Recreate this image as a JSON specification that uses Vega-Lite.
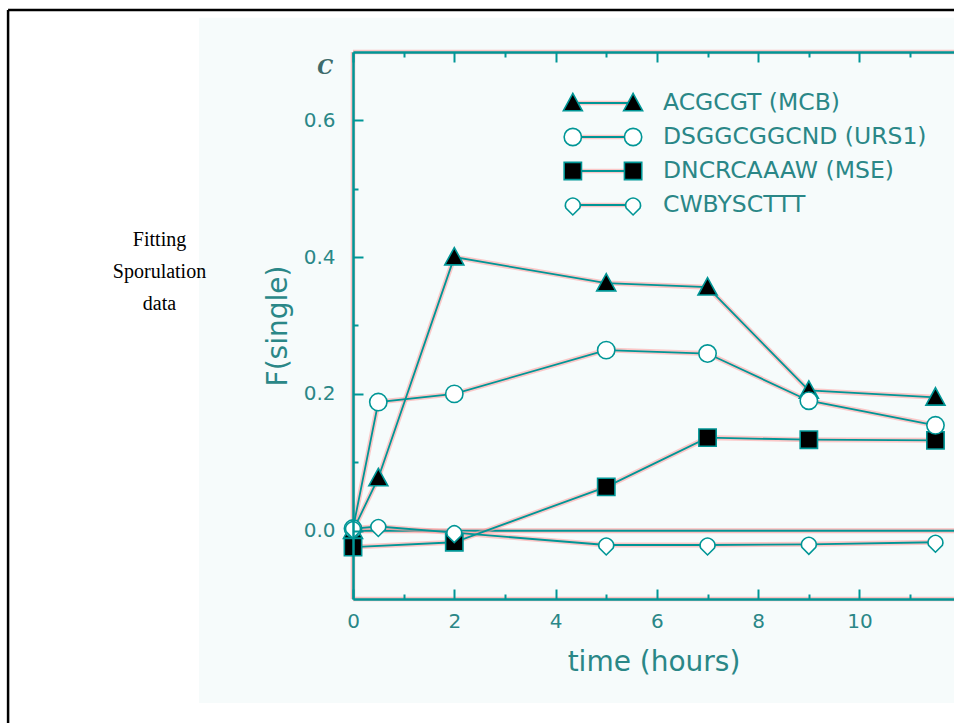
{
  "$schema": "https://vega.github.io/schema/vega-lite/v6.json",
  "width": 601,
  "height": 547,
  "autosize": {"type": "none"},
  "padding": {"left": 353, "top": 52, "right": 0, "bottom": 124},
  "background": "white",
  "config": {"view": {"stroke": null}, "font": "DejaVu Sans"},
  "datasets": {
    "series": [
      {"series": "ACGCGT (MCB)", "t": 0, "v": 0.0},
      {"series": "ACGCGT (MCB)", "t": 0.5, "v": 0.077},
      {"series": "ACGCGT (MCB)", "t": 2, "v": 0.4},
      {"series": "ACGCGT (MCB)", "t": 5, "v": 0.362},
      {"series": "ACGCGT (MCB)", "t": 7, "v": 0.356},
      {"series": "ACGCGT (MCB)", "t": 9, "v": 0.205},
      {"series": "ACGCGT (MCB)", "t": 11.5, "v": 0.195},
      {"series": "DNCRCAAAW (MSE)", "t": 0, "v": -0.024},
      {"series": "DNCRCAAAW (MSE)", "t": 2, "v": -0.017},
      {"series": "DNCRCAAAW (MSE)", "t": 5, "v": 0.064},
      {"series": "DNCRCAAAW (MSE)", "t": 7, "v": 0.136},
      {"series": "DNCRCAAAW (MSE)", "t": 9, "v": 0.133},
      {"series": "DNCRCAAAW (MSE)", "t": 11.5, "v": 0.132},
      {"series": "DSGGCGGCND (URS1)", "t": 0, "v": 0.003},
      {"series": "DSGGCGGCND (URS1)", "t": 0.5, "v": 0.188},
      {"series": "DSGGCGGCND (URS1)", "t": 2, "v": 0.2},
      {"series": "DSGGCGGCND (URS1)", "t": 5, "v": 0.264},
      {"series": "DSGGCGGCND (URS1)", "t": 7, "v": 0.259},
      {"series": "DSGGCGGCND (URS1)", "t": 9, "v": 0.19},
      {"series": "DSGGCGGCND (URS1)", "t": 11.5, "v": 0.154},
      {"series": "CWBYSCTTT", "t": 0, "v": 0.003},
      {"series": "CWBYSCTTT", "t": 0.5, "v": 0.006},
      {"series": "CWBYSCTTT", "t": 2, "v": -0.003},
      {"series": "CWBYSCTTT", "t": 5, "v": -0.021},
      {"series": "CWBYSCTTT", "t": 7, "v": -0.021},
      {"series": "CWBYSCTTT", "t": 9, "v": -0.02},
      {"series": "CWBYSCTTT", "t": 11.5, "v": -0.017}
    ],
    "legend": [
      {"series": "ACGCGT (MCB)"},
      {"series": "DSGGCGGCND (URS1)"},
      {"series": "DNCRCAAAW (MSE)"},
      {"series": "CWBYSCTTT"}
    ]
  },
  "resolve": {"axis": {"x": "independent", "y": "independent"}, "scale": {"y": "independent"}},
  "layer": [
    {
      "data": {"values": [{}]},
      "mark": {"type": "rect", "color": "#f6fbfb"},
      "encoding": {
        "x": {"datum": -3.04, "type": "quantitative", "scale": {"domain": [0, 11.866], "nice": false, "zero": false}, "axis": null},
        "x2": {"datum": 12.5},
        "y": {"datum": 0.75, "type": "quantitative", "scale": {"domain": [-0.1, 0.7], "nice": false, "zero": false}, "axis": null},
        "y2": {"datum": -0.252}
      }
    },
    {
      "data": {"values": [{}]},
      "mark": {"type": "rule", "color": "black", "strokeWidth": 2.5},
      "encoding": {
        "x": {"datum": -6.81, "type": "quantitative", "scale": {"domain": [0, 11.866], "nice": false, "zero": false}, "axis": null},
        "y": {"datum": 0.7614, "type": "quantitative", "scale": {"domain": [-0.1, 0.7], "nice": false, "zero": false}, "axis": null},
        "y2": {"datum": -0.5}
      }
    },
    {
      "data": {"values": [{}]},
      "mark": {"type": "rule", "color": "black", "strokeWidth": 2.5},
      "encoding": {
        "x": {"datum": -6.81, "type": "quantitative", "scale": {"domain": [0, 11.866], "nice": false, "zero": false}, "axis": null},
        "x2": {"datum": 12.5},
        "y": {"datum": 0.7614, "type": "quantitative", "scale": {"domain": [-0.1, 0.7], "nice": false, "zero": false}, "axis": null}
      }
    },
    {
      "data": {"values": [{}]},
      "mark": {"type": "rule", "color": "#ff9c9c", "strokeWidth": 4.5, "opacity": 0.6},
      "encoding": {
        "x": {"datum": 0, "type": "quantitative", "scale": {"domain": [0, 11.866], "nice": false, "zero": false}, "axis": null},
        "y": {"datum": 0.7, "type": "quantitative", "scale": {"domain": [-0.1, 0.7], "nice": false, "zero": false}, "axis": null},
        "y2": {"datum": -0.1}
      }
    },
    {
      "data": {"values": [{}]},
      "mark": {"type": "rule", "color": "#ff9c9c", "strokeWidth": 4.5, "opacity": 0.6},
      "encoding": {
        "x": {"datum": 0, "type": "quantitative", "scale": {"domain": [0, 11.866], "nice": false, "zero": false}, "axis": null},
        "x2": {"datum": 12.5},
        "y": {"datum": -0.1, "type": "quantitative", "scale": {"domain": [-0.1, 0.7], "nice": false, "zero": false}, "axis": null}
      }
    },
    {
      "data": {"values": [{}]},
      "mark": {"type": "rule", "color": "#ff9c9c", "strokeWidth": 4.5, "opacity": 0.6},
      "encoding": {
        "x": {"datum": 0, "type": "quantitative", "scale": {"domain": [0, 11.866], "nice": false, "zero": false}, "axis": null},
        "x2": {"datum": 12.5},
        "y": {"datum": 0.7, "type": "quantitative", "scale": {"domain": [-0.1, 0.7], "nice": false, "zero": false}, "axis": null}
      }
    },
    {
      "data": {"values": [{}]},
      "mark": {"type": "rule", "color": "#ff9c9c", "strokeWidth": 5, "opacity": 0.65},
      "encoding": {
        "x": {"datum": 0, "type": "quantitative", "scale": {"domain": [0, 11.866], "nice": false, "zero": false}, "axis": null},
        "x2": {"datum": 12.5},
        "y": {"datum": 0, "type": "quantitative", "scale": {"domain": [-0.1, 0.7], "nice": false, "zero": false}, "axis": null}
      }
    },
    {
      "data": {"values": [{}]},
      "mark": {"type": "rule", "color": "#009696", "strokeWidth": 2},
      "encoding": {
        "x": {"datum": 0, "type": "quantitative", "scale": {"domain": [0, 11.866], "nice": false, "zero": false}, "axis": null},
        "x2": {"datum": 12.5},
        "y": {"datum": 0, "type": "quantitative", "scale": {"domain": [-0.1, 0.7], "nice": false, "zero": false}, "axis": null}
      }
    },
    {
      "data": {"name": "series"},
      "mark": {"type": "line", "color": "#ff9c9c", "strokeWidth": 5, "opacity": 0.55},
      "encoding": {
        "x": {"field": "t", "type": "quantitative", "scale": {"domain": [0, 11.866], "nice": false, "zero": false}, "axis": null},
        "y": {"field": "v", "type": "quantitative", "scale": {"domain": [-0.1, 0.7], "nice": false, "zero": false}, "axis": null},
        "detail": {"field": "series"}
      }
    },
    {
      "data": {"name": "series"},
      "mark": {"type": "line", "color": "#009696", "strokeWidth": 1.8},
      "encoding": {
        "x": {
          "field": "t", "type": "quantitative",
          "scale": {"domain": [0, 11.866], "nice": false, "zero": false},
          "axis": {
            "orient": "bottom",
            "values": [0, 1, 2, 3, 4, 5, 6, 7, 8, 9, 10, 11],
            "format": "d",
            "labelExpr": "datum.value % 2 === 0 ? datum.label : ''",
            "tickSize": {"expr": "datum.value % 2 === 0 ? -10 : -5"},
            "tickColor": "#009696", "tickWidth": 2,
            "domainColor": "#009696", "domainWidth": 2.5,
            "labelFont": "DejaVu Sans", "labelFontSize": 20, "labelColor": "#2a8787",
            "labelPadding": 22, "labelFlush": false, "labelOverlap": false,
            "title": "time (hours)", "titleFont": "DejaVu Sans", "titleFontSize": 28, "titleFontWeight": "normal",
            "titleColor": "#2a8787", "titlePadding": 12, "grid": false, "zindex": 2
          }
        },
        "y": {
          "field": "v", "type": "quantitative",
          "scale": {"domain": [-0.1, 0.7], "nice": false, "zero": false},
          "axis": {
            "orient": "left",
            "values": [0, 0.1, 0.2, 0.3, 0.4, 0.5, 0.6],
            "labelExpr": "round(datum.value * 10) % 2 === 0 ? format(datum.value, '.1f') : ''",
            "tickSize": {"expr": "round(datum.value * 10) % 2 === 0 ? -10 : -5"},
            "tickColor": "#009696", "tickWidth": 2,
            "domainColor": "#009696", "domainWidth": 2.5,
            "labelFont": "DejaVu Sans", "labelFontSize": 20, "labelColor": "#2a8787",
            "labelPadding": 28, "labelFlush": false, "labelOverlap": false,
            "title": "F(single)", "titleFont": "DejaVu Sans", "titleFontSize": 28, "titleFontWeight": "normal",
            "titleColor": "#2a8787", "titlePadding": 11, "grid": false, "zindex": 2
          }
        },
        "detail": {"field": "series"}
      }
    },
    {
      "data": {"name": "series"},
      "mark": {"type": "point", "filled": true, "stroke": "#009696", "strokeWidth": 1.6, "size": 300, "opacity": 1},
      "encoding": {
        "x": {
          "field": "t", "type": "quantitative",
          "scale": {"domain": [0, 11.866], "nice": false, "zero": false},
          "axis": {
            "orient": "top",
            "values": [0, 1, 2, 3, 4, 5, 6, 7, 8, 9, 10, 11],
            "labels": false,
            "tickSize": {"expr": "datum.value % 2 === 0 ? -10 : -5"},
            "tickColor": "#009696", "tickWidth": 2,
            "domainColor": "#009696", "domainWidth": 2.5,
            "title": null, "grid": false, "zindex": 2
          }
        },
        "y": {"field": "v", "type": "quantitative", "scale": {"domain": [-0.1, 0.7], "nice": false, "zero": false}, "axis": null},
        "shape": {
          "field": "series", "type": "nominal",
          "scale": {
            "domain": ["ACGCGT (MCB)", "DSGGCGGCND (URS1)", "DNCRCAAAW (MSE)", "CWBYSCTTT"],
            "range": ["M-1.1,0.9 L0,-1.1 L1.1,0.9 Z", "circle", "square", "M-0.8,0.35 A0.85,0.85 0 1,1 0.8,0.35 L0,1.15 Z"]
          },
          "legend": null
        },
        "fill": {
          "field": "series", "type": "nominal",
          "scale": {
            "domain": ["ACGCGT (MCB)", "DSGGCGGCND (URS1)", "DNCRCAAAW (MSE)", "CWBYSCTTT"],
            "range": ["black", "white", "black", "white"]
          },
          "legend": null
        }
      }
    },
    {
      "data": {"name": "legend"},
      "mark": {"type": "rule", "color": "#ff9c9c", "strokeWidth": 4.5, "opacity": 0.55},
      "encoding": {
        "x": {"datum": 4.34, "type": "quantitative", "scale": {"domain": [0, 11.866], "nice": false, "zero": false}, "axis": null},
        "x2": {"datum": 5.53},
        "y": {"field": "series", "type": "nominal", "sort": null, "scale": {"type": "point", "domain": ["ACGCGT (MCB)", "DSGGCGGCND (URS1)", "DNCRCAAAW (MSE)", "CWBYSCTTT"], "range": [51, 153], "padding": 0}, "axis": null}
      }
    },
    {
      "data": {"name": "legend"},
      "mark": {"type": "rule", "color": "#009696", "strokeWidth": 1.8},
      "encoding": {
        "x": {"datum": 4.34, "type": "quantitative", "scale": {"domain": [0, 11.866], "nice": false, "zero": false}, "axis": null},
        "x2": {"datum": 5.53},
        "y": {"field": "series", "type": "nominal", "sort": null, "scale": {"type": "point", "domain": ["ACGCGT (MCB)", "DSGGCGGCND (URS1)", "DNCRCAAAW (MSE)", "CWBYSCTTT"], "range": [51, 153], "padding": 0}, "axis": null}
      }
    },
    {
      "data": {"name": "legend"},
      "mark": {"type": "point", "filled": true, "stroke": "#009696", "strokeWidth": 1.6, "size": 300, "opacity": 1},
      "encoding": {
        "x": {"datum": 4.34, "type": "quantitative", "scale": {"domain": [0, 11.866], "nice": false, "zero": false}, "axis": null},
        "y": {"field": "series", "type": "nominal", "sort": null, "scale": {"type": "point", "domain": ["ACGCGT (MCB)", "DSGGCGGCND (URS1)", "DNCRCAAAW (MSE)", "CWBYSCTTT"], "range": [51, 153], "padding": 0}, "axis": null},
        "shape": {"field": "series", "type": "nominal", "scale": {"domain": ["ACGCGT (MCB)", "DSGGCGGCND (URS1)", "DNCRCAAAW (MSE)", "CWBYSCTTT"], "range": ["M-1.1,0.9 L0,-1.1 L1.1,0.9 Z", "circle", "square", "M-0.8,0.35 A0.85,0.85 0 1,1 0.8,0.35 L0,1.15 Z"]}, "legend": null},
        "fill": {"field": "series", "type": "nominal", "scale": {"domain": ["ACGCGT (MCB)", "DSGGCGGCND (URS1)", "DNCRCAAAW (MSE)", "CWBYSCTTT"], "range": ["black", "white", "black", "white"]}, "legend": null}
      }
    },
    {
      "data": {"name": "legend"},
      "mark": {"type": "point", "filled": true, "stroke": "#009696", "strokeWidth": 1.6, "size": 300, "opacity": 1},
      "encoding": {
        "x": {"datum": 5.53, "type": "quantitative", "scale": {"domain": [0, 11.866], "nice": false, "zero": false}, "axis": null},
        "y": {"field": "series", "type": "nominal", "sort": null, "scale": {"type": "point", "domain": ["ACGCGT (MCB)", "DSGGCGGCND (URS1)", "DNCRCAAAW (MSE)", "CWBYSCTTT"], "range": [51, 153], "padding": 0}, "axis": null},
        "shape": {"field": "series", "type": "nominal", "scale": {"domain": ["ACGCGT (MCB)", "DSGGCGGCND (URS1)", "DNCRCAAAW (MSE)", "CWBYSCTTT"], "range": ["M-1.1,0.9 L0,-1.1 L1.1,0.9 Z", "circle", "square", "M-0.8,0.35 A0.85,0.85 0 1,1 0.8,0.35 L0,1.15 Z"]}, "legend": null},
        "fill": {"field": "series", "type": "nominal", "scale": {"domain": ["ACGCGT (MCB)", "DSGGCGGCND (URS1)", "DNCRCAAAW (MSE)", "CWBYSCTTT"], "range": ["black", "white", "black", "white"]}, "legend": null}
      }
    },
    {
      "data": {"name": "legend"},
      "mark": {"type": "text", "font": "DejaVu Sans", "fontSize": 23.5, "color": "#2a8787", "align": "left", "baseline": "middle"},
      "encoding": {
        "x": {"datum": 6.12, "type": "quantitative", "scale": {"domain": [0, 11.866], "nice": false, "zero": false}, "axis": null},
        "y": {"field": "series", "type": "nominal", "sort": null, "scale": {"type": "point", "domain": ["ACGCGT (MCB)", "DSGGCGGCND (URS1)", "DNCRCAAAW (MSE)", "CWBYSCTTT"], "range": [51, 153], "padding": 0}, "axis": null},
        "text": {"field": "series", "type": "nominal"}
      }
    },
    {
      "data": {"values": [{}]},
      "mark": {"type": "text", "text": "C", "font": "DejaVu Serif", "fontSize": 20, "fontStyle": "italic", "fontWeight": "bold", "color": "#3d6b6b", "align": "center", "baseline": "middle"},
      "encoding": {
        "x": {"datum": -0.55, "type": "quantitative", "scale": {"domain": [0, 11.866], "nice": false, "zero": false}, "axis": null},
        "y": {"datum": 0.677, "type": "quantitative", "scale": {"domain": [-0.1, 0.7], "nice": false, "zero": false}, "axis": null}
      }
    },
    {
      "data": {"values": [{}]},
      "mark": {"type": "text", "text": ["Fitting", "Sporulation", "data"], "font": "Liberation Serif", "fontSize": 20, "lineHeight": 32, "color": "black", "align": "center", "baseline": "middle"},
      "encoding": {
        "x": {"datum": -3.82, "type": "quantitative", "scale": {"domain": [0, 11.866], "nice": false, "zero": false}, "axis": null},
        "y": {"datum": 0.425, "type": "quantitative", "scale": {"domain": [-0.1, 0.7], "nice": false, "zero": false}, "axis": null}
      }
    }
  ]
}
